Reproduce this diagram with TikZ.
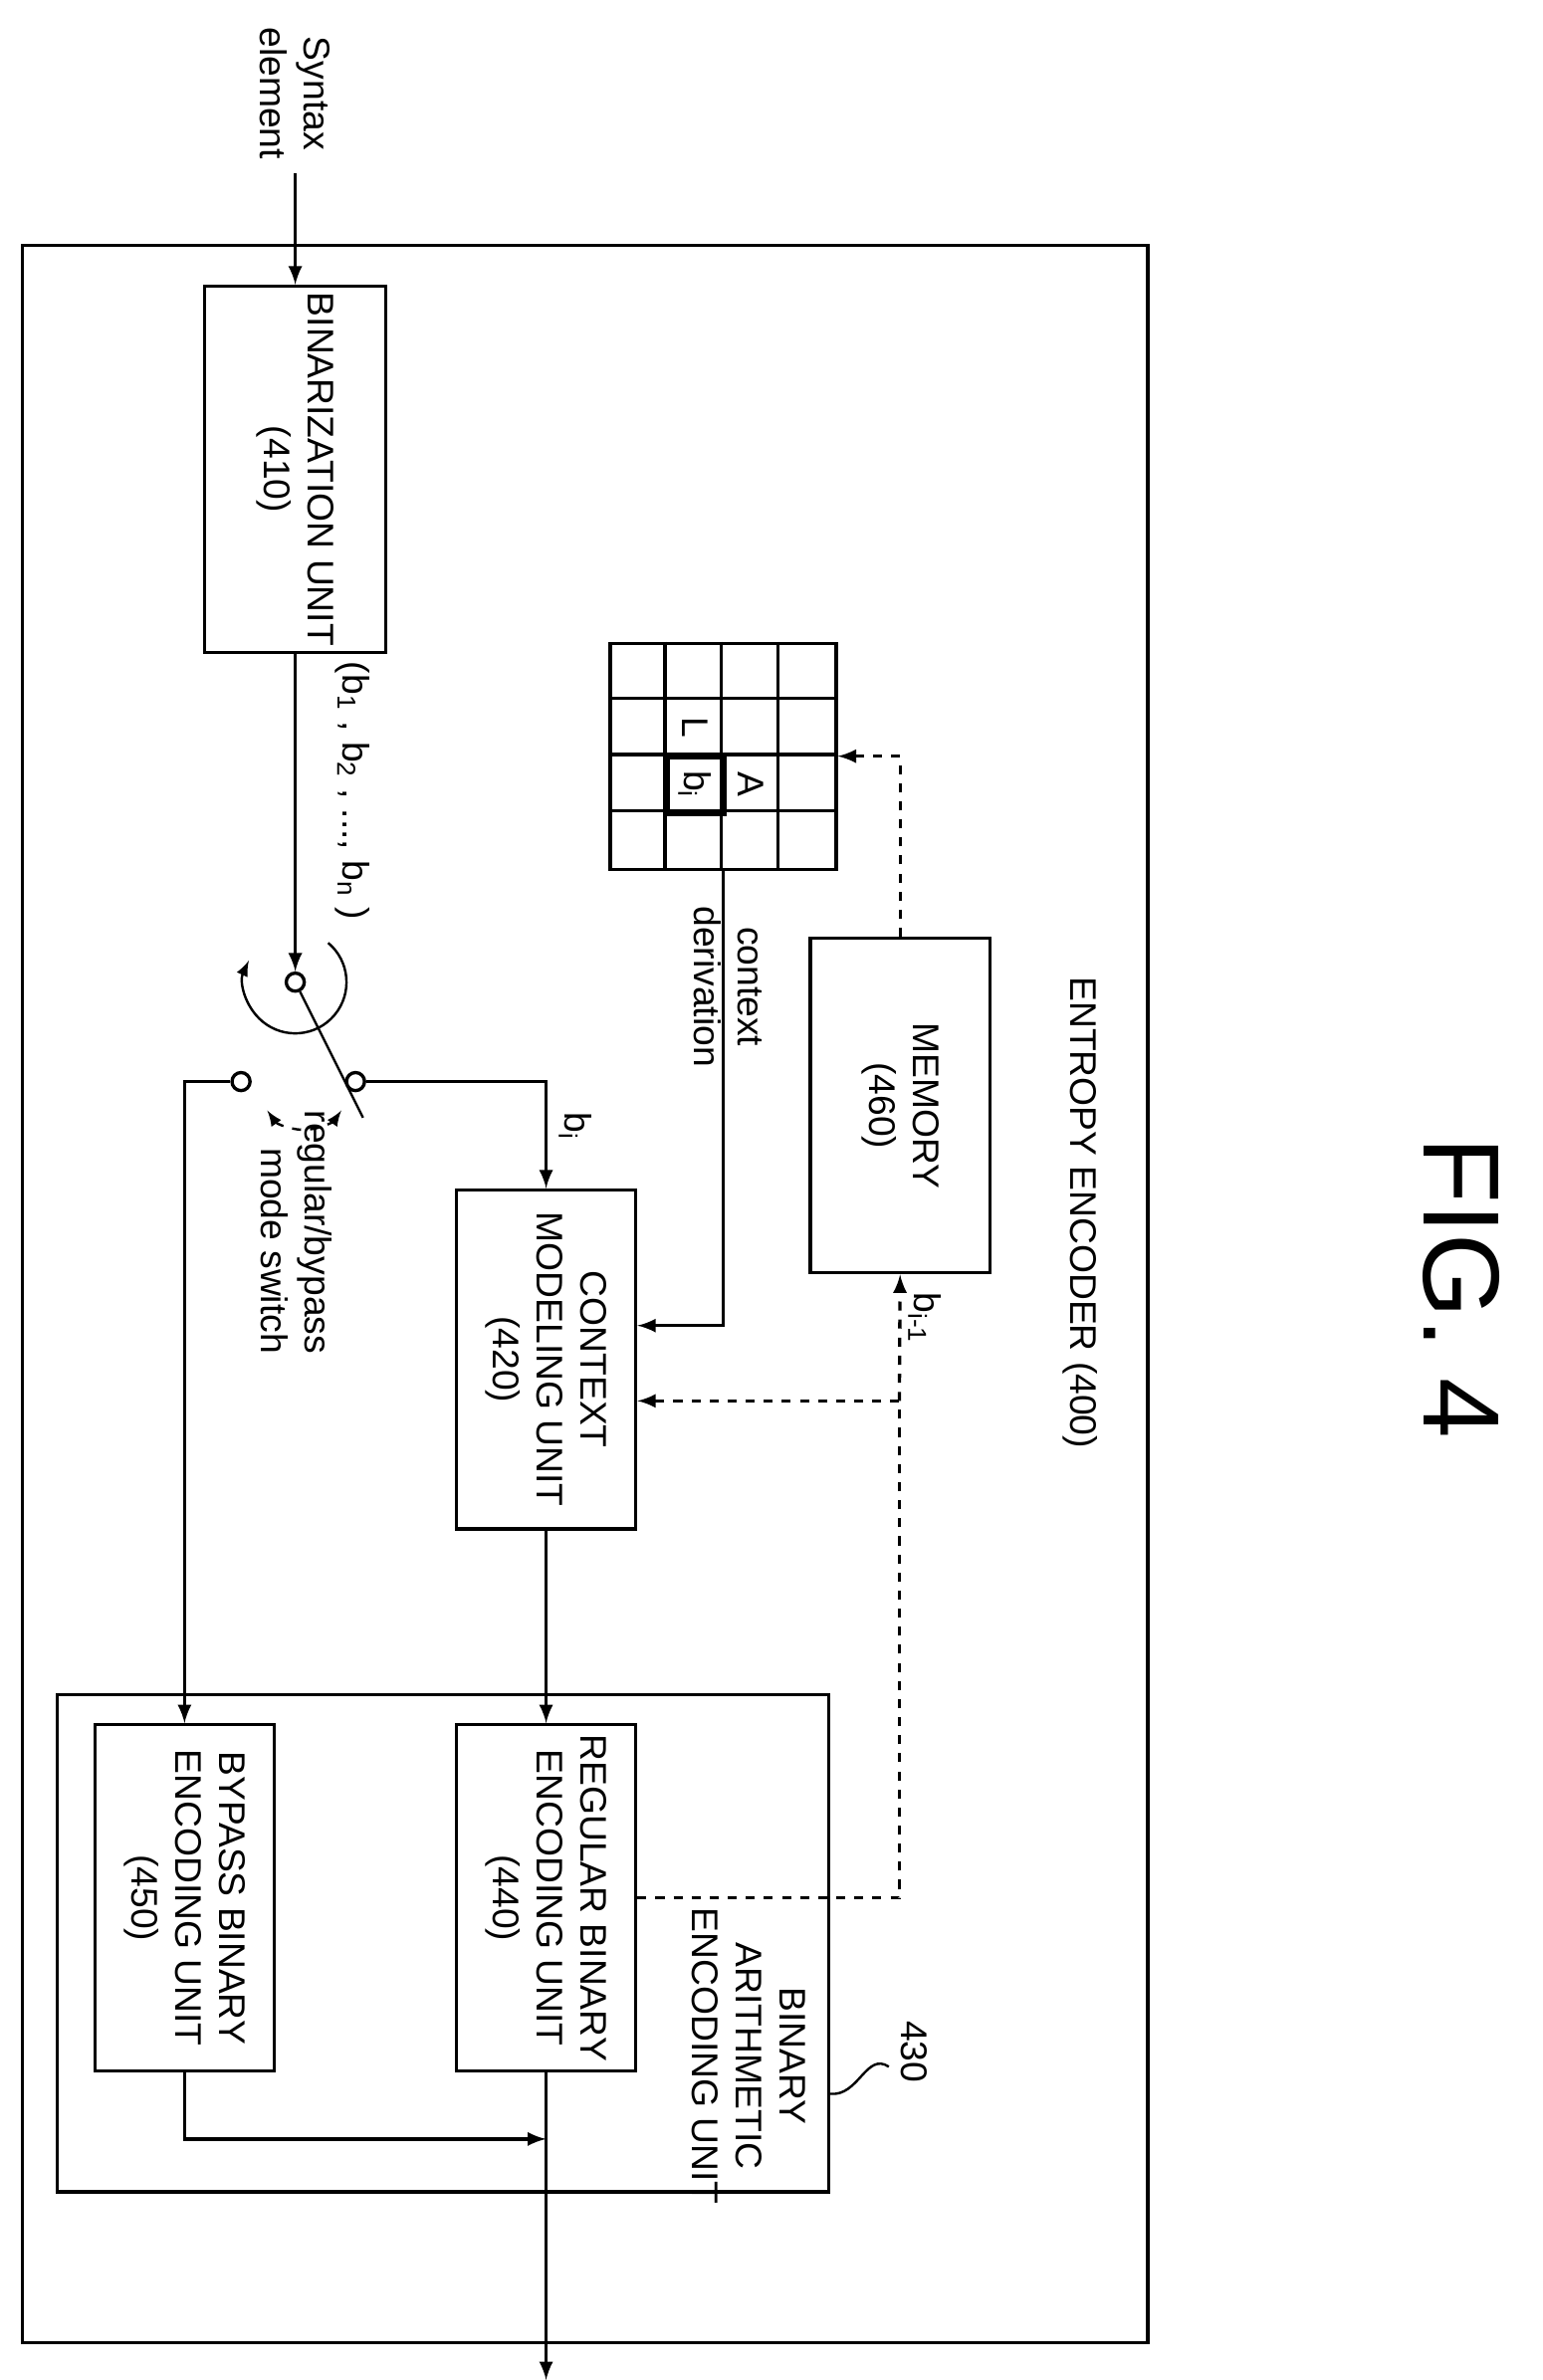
\documentclass[tikz,border=0pt]{standalone}
\usepackage{fontspec}
\setmainfont{Liberation Sans}
\usetikzlibrary{arrows,positioning,calc}

\begin{document}
\begin{tikzpicture}[x=0.5pt, y=-0.5pt, align=center, every path/.style={line width=1.1pt},
  font=\fontsize{12.3}{14.5}\selectfont,
  blk/.style={draw, line width=1.1pt, rotate=-90, inner sep=0pt},
  lbl/.style={rotate=-90, inner sep=1pt},
  pin/.style={draw, circle, minimum size=6pt, inner sep=0pt},
  >=latex]
\useasboundingbox (0,0) rectangle (1024,1580);

\node (fig) [lbl, font=\fontsize{36}{42}\selectfont] at (970,855) {FIG. 4};

\draw (15,163) rectangle (762,1555);
\node (enc) [lbl] at (717,805) {ENTROPY ENCODER (400)};

\node (syn) [lbl] at (196,62) {Syntax\\element};
\coordinate (in) at (196,115);

\node (bin) [blk, minimum width=121.5pt, minimum height=60pt] at (196,311.5) {BINARIZATION UNIT\\(410)};
\node (seq) [lbl] at (234,525) {(b\textsubscript{1} , b\textsubscript{2} , ..., b\textsubscript{n} )};

\draw[->] (in) -- (bin.west);

% -------------------------------

\node (piv) [pin] at (196,652) {};
\node (rsw) [pin] at (236,718) {};
\node (lsw) [pin] at (160,718) {};
\coordinate (arm) at (241,742);

\draw[->] (bin.east) -- (piv);
\draw[line width=0.8pt] (piv) -- (arm);
\draw[line width=0.8pt, ->] ($(piv)+(-50:34)$) arc (-50:205:34);
\draw[line width=0.8pt, dashed, <->] ($(202,720)+(145:30)$) arc (145:35:30);
\node (mode) [lbl, align=right] at (197,818) {regular/bypass\\mode switch};

\node (ctx) [blk, minimum width=112.5pt, minimum height=59.5pt] at (362.5,902.5) {CONTEXT\\MODELING UNIT\\(420)};
\node (bi) [lbl] at (382,748) {b\textsubscript{i}};

\draw[->] (rsw) -| (ctx.west);

% -------------------------------

\node (grid) [draw, minimum size=75pt, inner sep=0pt] at (480,502) {};
\foreach \k in {1,2,3} {
  \draw ($(grid.north west)+(37.5*\k,0)$) -- ($(grid.south west)+(37.5*\k,0)$);
  \draw ($(grid.north west)+(0,37.5*\k)$) -- ($(grid.north east)+(0,37.5*\k)$);
}
\node (cur) [draw, line width=2.2pt, minimum size=18.75pt, inner sep=0pt, rotate=-90] at (461.25,520.75) {b\textsubscript{i}};
\node (left) [lbl] at (461.25,483.25) {L};
\node (above) [lbl] at (498.75,520.75) {A};

\node (der) [lbl] at (483,655) {context\\derivation};
\draw[->] (grid.south) |- (ctx.north |- 0,880);

\node (mem) [blk, minimum width=111pt, minimum height=59.5pt] at (597.5,734) {MEMORY\\(460)};
\draw[dashed, ->] (mem.west) |- (grid.east);

% -------------------------------

\node (bae) [blk, minimum width=165pt, minimum height=256pt] at (294,1290) {};
\node (baet) [lbl] at (497,1365) {BINARY\\ARITHMETIC\\ENCODING UNIT};
\node (num) [lbl] at (607,1362) {430};
\draw[line width=0.8pt] (590,1372) .. controls (575,1362) and (570,1392) .. (551,1390);

\node (reg) [blk, minimum width=115pt, minimum height=59.5pt] at (362.5,1260) {REGULAR BINARY\\ENCODING UNIT\\(440)};
\node (byp) [blk, minimum width=115pt, minimum height=59.5pt] at (122.5,1260) {BYPASS BINARY\\ENCODING UNIT\\(450)};

\draw[->] (ctx.east) -- (reg.west);
\draw[->] (lsw) -| (byp.west);

\coordinate (join) at (362.5,1420);
\coordinate (out) at (362.5,1580);
\draw[->] (byp.east) |- (join);
\draw[->] (reg.east) -- (out);

\coordinate (fb) at (597,930);
\draw[dashed] (reg.north) -| (fb);
\draw[dashed, ->] (fb) -- (ctx.north |- fb);
\draw[dashed, ->] (fb) -- (mem.east);
\node (bim) [lbl] at (614,875) {b\textsubscript{i-1}};
\end{tikzpicture}
\end{document}
